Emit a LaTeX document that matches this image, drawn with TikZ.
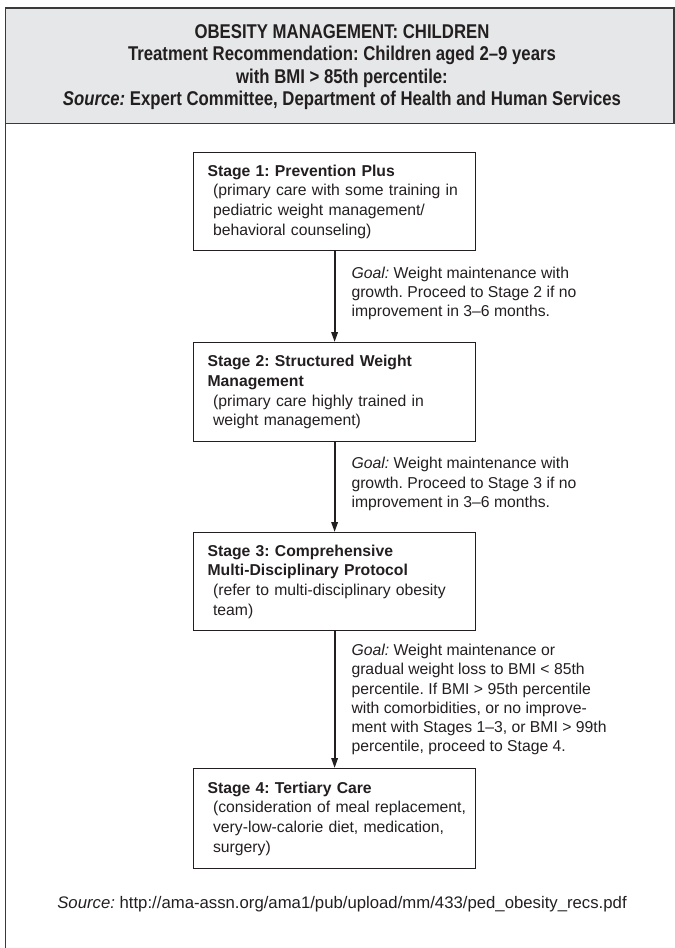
\documentclass[tikz,border=0pt]{standalone}
\usepackage{fontspec}
\setmainfont{Liberation Sans}
\newfontfamily\headfont[FakeStretch=0.84]{Liberation Sans}
\usetikzlibrary{arrows.meta}

\definecolor{ink}{HTML}{231F20}
\definecolor{headgray}{HTML}{E6E7E8}
\definecolor{rule}{HTML}{3A3A3A}

% left padding inside the stage boxes: heading lines and indented detail lines
\newcommand{\hd}{\hspace*{10bp}}
\newcommand{\ind}{\hspace*{15.5bp}}
\frenchspacing
\hyphenpenalty=10000

\begin{document}
\begin{tikzpicture}[x=1bp,y=1bp,
  frameline/.style={draw=rule, line width=1.5bp},
  stagebox/.style={draw=ink, line width=1.2bp, anchor=north west,
    minimum width=282bp, text width=274bp, inner xsep=4bp, inner ysep=0pt,
    align=left, text=ink, font=\fontsize{15.8}{19.8}\selectfont},
  flow/.style={draw=ink, line width=1.8bp, -{Triangle[length=10bp,width=6.5bp]}},
  goal/.style={anchor=west, xshift=16bp, inner sep=0pt, align=left, text=ink,
    font=\fontsize{15.8}{19.3}\selectfont},
  headtext/.style={inner sep=0pt, align=center, text=ink,
    font=\headfont\bfseries\fontsize{20}{22.6}\selectfont},
  sourcetext/.style={inner sep=0pt, anchor=base, text=ink,
    font=\fontsize{16.8}{19}\selectfont}
]
\useasboundingbox (0,0) rectangle (675,-948);

% outer frame with shaded title band
\fill[headgray] (5.5,-8) rectangle (674,-123.5);
\draw[frameline] (5.5,-948) -- (5.5,-8) -- (674,-8) -- (674,-123.5) -- (5.5,-123.5);

\node[headtext] (title) at (342,-67.2) {OBESITY MANAGEMENT: CHILDREN\\
  Treatment Recommendation: Children aged 2–9 years\\
  with BMI > 85th percentile:\\
  \textit{Source:} Expert Committee, Department of Health and Human Services};

% treatment stages
\node[stagebox, minimum height=98bp] (s1) at (193,-152) {\hd\textbf{Stage 1: Prevention Plus}\\
  \ind(primary care with some training in\\
  \ind pediatric weight management/\\
  \ind behavioral counseling)};

\node[stagebox, minimum height=99bp] (s2) at (193,-342) {\hd\textbf{Stage 2: Structured Weight}\\
  \hd\textbf{Management}\\
  \ind(primary care highly trained in\\
  \ind weight management)};

\node[stagebox, minimum height=98bp] (s3) at (193,-532) {\hd\textbf{Stage 3: Comprehensive}\\
  \hd\textbf{Multi-Disciplinary Protocol}\\
  \ind(refer to multi-disciplinary obesity\\
  \ind team)};

\node[stagebox, minimum height=100bp] (s4) at (193,-768) {\hd\textbf{Stage 4: Tertiary Care}\\
  \ind(consideration of meal replacement,\\
  \ind very-low-calorie diet, medication,\\
  \ind surgery)};

% transitions between stages
\draw[flow] (s1.south) -- (s2.north)
  node[goal, pos=0.467] (g1) {\textit{Goal:} Weight maintenance with\\
    growth. Proceed to Stage 2 if no\\
    improvement in 3–6 months.};
\draw[flow] (s2.south) -- (s3.north)
  node[goal, pos=0.467] (g2) {\textit{Goal:} Weight maintenance with\\
    growth. Proceed to Stage 3 if no\\
    improvement in 3–6 months.};
\draw[flow] (s3.south) -- (s4.north)
  node[goal, pos=0.5] (g3) {\textit{Goal:} Weight maintenance or\\
    gradual weight loss to BMI < 85th\\
    percentile. If BMI > 95th percentile\\
    with comorbidities, or no improve-\\
    ment with Stages 1–3, or BMI > 99th\\
    percentile, proceed to Stage 4.};

\node[sourcetext] (src) at (342,-908.5)
  {\textit{Source:} http://ama-assn.org/ama1/pub/upload/mm/433/ped\_obesity\_recs.pdf};
\end{tikzpicture}
\end{document}
